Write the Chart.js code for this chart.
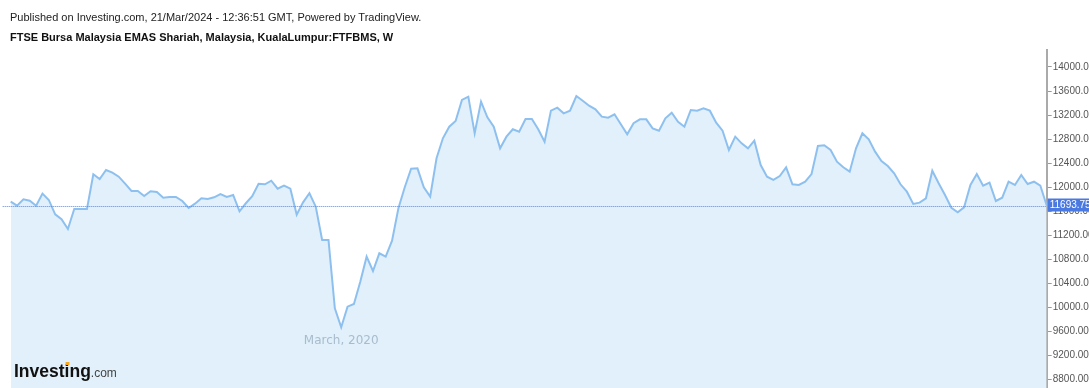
<!DOCTYPE html>
<html>
<head>
<meta charset="utf-8">
<script src="https://cdn.jsdelivr.net/npm/chart.js@4.4.1/dist/chart.umd.min.js"></script>
<style>
    body { margin: 0; background: #fff; }
    #wrap { position: relative; width: 1089px; height: 388px; overflow: hidden; }
    #chartFtse { position: absolute; left: 0; top: 0; }
    .titulo { position: absolute; left: 10px; font-family: "Liberation Sans", Arial, sans-serif; font-size: 11px; color: #222; white-space: nowrap; }
    #linha1 { top: 11px; }
    #linha2 { top: 31px; font-weight: bold; color: #111; }
</style>
</head>
<body>
<div id="wrap">
    <canvas id="chartFtse" width="1089" height="388"></canvas>
    <div class="titulo" id="linha1">Published on Investing.com, 21/Mar/2024 - 12:36:51 GMT, Powered by TradingView.</div>
    <div class="titulo" id="linha2">FTSE Bursa Malaysia EMAS Shariah, Malaysia, KualaLumpur:FTFBMS, W</div>
</div>
<script>
// fechamentos semanais
var fechamentos = [
    11757, 11691, 11797, 11774, 11691, 11891, 11786, 11547, 11464, 11303,
    11636, 11636, 11636, 12213, 12135, 12285, 12240, 12174, 12057, 11935,
    11935, 11852, 11930, 11919, 11824, 11836, 11836, 11769, 11652, 11724,
    11814, 11802, 11830, 11885, 11836, 11869, 11597, 11731, 11847, 12057,
    12047, 12107, 11974, 12024, 11974, 11541, 11747, 11897, 11674, 11120,
    11120, 9982, 9666, 10009, 10054, 10425, 10842, 10603, 10898, 10842,
    11108, 11647, 11997, 12307, 12313, 11997, 11841, 12480, 12813, 13006,
    13101, 13451, 13506, 12896, 13423, 13162, 13006, 12646, 12840, 12963,
    12923, 13134, 13134, 12963, 12757, 13273, 13323, 13229, 13273, 13517,
    13439, 13356, 13295, 13173, 13156, 13212, 13046, 12879, 13063, 13129,
    13129, 12979, 12940, 13146, 13239, 13089, 13006, 13284, 13273, 13312,
    13273, 13073, 12940, 12618, 12840, 12729, 12646, 12773, 12368, 12174,
    12119, 12185, 12330, 12047, 12035, 12090, 12218, 12685, 12696, 12618,
    12423, 12330, 12257, 12646, 12896, 12796, 12590, 12435, 12352, 12230,
    12047, 11924, 11719, 11741, 11814, 12273, 12064, 11869, 11657, 11581,
    11664, 12035, 12218, 12024, 12074, 11769, 11824, 12090, 12035, 12202,
    12052, 12090, 12024, 11693.75
];

var inicioSemanas = '2019-03-22';
var semanas = [];
for (var i = 0; i < fechamentos.length; i++) {
    var d = new Date(inicioSemanas + 'T00:00:00Z');
    d.setUTCDate(d.getUTCDate() + 7 * i);
    semanas.push(d.toISOString().slice(0, 10));
}

var ticksEixo = [8800, 9200, 9600, 10000, 10400, 10800, 11200, 11600, 12000, 12400, 12800, 13200, 13600, 14000];
var ultimoValor = 11693.75;
var rotuloTempo = 'March, 2020';
var semanaRotulo = '2020-03-20';

const linhaUltimo = {
    id: 'linhaUltimo',
    afterDatasetsDraw(chart) {
        const { ctx, chartArea: { left, right }, scales: { y } } = chart;
        var py = Math.round(y.getPixelForValue(ultimoValor)) + 0.5;
        ctx.save();
        ctx.strokeStyle = '#5b86e5';
        ctx.lineWidth = 1;
        ctx.setLineDash([1, 1]);
        ctx.beginPath();
        ctx.moveTo(left - 8, py);
        ctx.lineTo(right, py);
        ctx.stroke();
        ctx.restore();
    },
    afterDraw(chart) {
        const { ctx, chartArea: { left, right, bottom }, scales: { x, y } } = chart;
        ctx.save();

        // caixa do ultimo valor
        var py = y.getPixelForValue(ultimoValor);
        ctx.fillStyle = '#4a79e2';
        ctx.fillRect(right + 1, py - 7, chart.width - right, 13);
        ctx.fillStyle = '#ffffff';
        ctx.font = '10px "Liberation Sans", Arial, sans-serif';
        ctx.textBaseline = 'middle';
        ctx.fillText(ultimoValor.toFixed(2), right + 3, py);

        // rotulo de tempo
        var px = x.getPixelForValue(semanas.indexOf(semanaRotulo));
        ctx.fillStyle = '#a9bccd';
        ctx.font = '12px "DejaVu Sans", sans-serif';
        ctx.textAlign = 'center';
        ctx.textBaseline = 'middle';
        ctx.fillText(rotuloTempo, px, 341);

        // logo
        ctx.textAlign = 'left';
        ctx.textBaseline = 'alphabetic';
        ctx.fillStyle = '#111';
        ctx.font = 'bold 17.5px "Liberation Sans", Arial, sans-serif';
        var w1 = ctx.measureText('Investing').width;
        ctx.fillText('Investing', 14, 377);
        var wi = ctx.measureText('Investi').width;
        var wn = ctx.measureText('Invest').width;
        ctx.fillStyle = '#f5a623';
        ctx.fillRect(14 + wn + 1, 362, (wi - wn) - 1, 3);
        ctx.fillStyle = '#444';
        ctx.font = '12px "Liberation Sans", Arial, sans-serif';
        ctx.fillText('.com', 14 + w1, 377);
        ctx.restore();
    }
};

var grafico = new Chart(document.getElementById('chartFtse'), {
    type: 'line',
    data: {
        labels: semanas,
        datasets: [{
            label: 'FTFBMS',
            data: fechamentos,
            borderColor: '#8ec0ef',
            backgroundColor: '#e1f0fa',
            borderWidth: 2,
            pointRadius: 0,
            tension: 0,
            fill: 'start'
        }]
    },
    options: {
        responsive: false,
        animation: false,
        layout: { padding: { left: 10.7, top: 50, right: 0, bottom: 0 } },
        plugins: { legend: { display: false }, tooltip: { enabled: false } },
        scales: {
            x: { display: false, offset: false },
            y: {
                position: 'right',
                min: 8655,
                max: 14283,
                afterBuildTicks(scale) {
                    scale.ticks = ticksEixo.map(v => ({ value: v }));
                },
                afterFit(scale) {
                    scale.width = 1089 - 1046.7;
                    scale.paddingTop = 0;
                    scale.paddingBottom = 0;
                },
                grid: { drawOnChartArea: false, drawTicks: true, tickLength: 5, color: '#999' },
                border: { display: true, color: '#aaa', width: 2 },
                ticks: {
                    padding: 1,
                    color: '#555',
                    font: { size: 10, family: '"Liberation Sans", Arial, sans-serif' },
                    callback: v => Number(v).toFixed(2)
                }
            }
        }
    },
    plugins: [linhaUltimo]
});
</script>
</body>
</html>
